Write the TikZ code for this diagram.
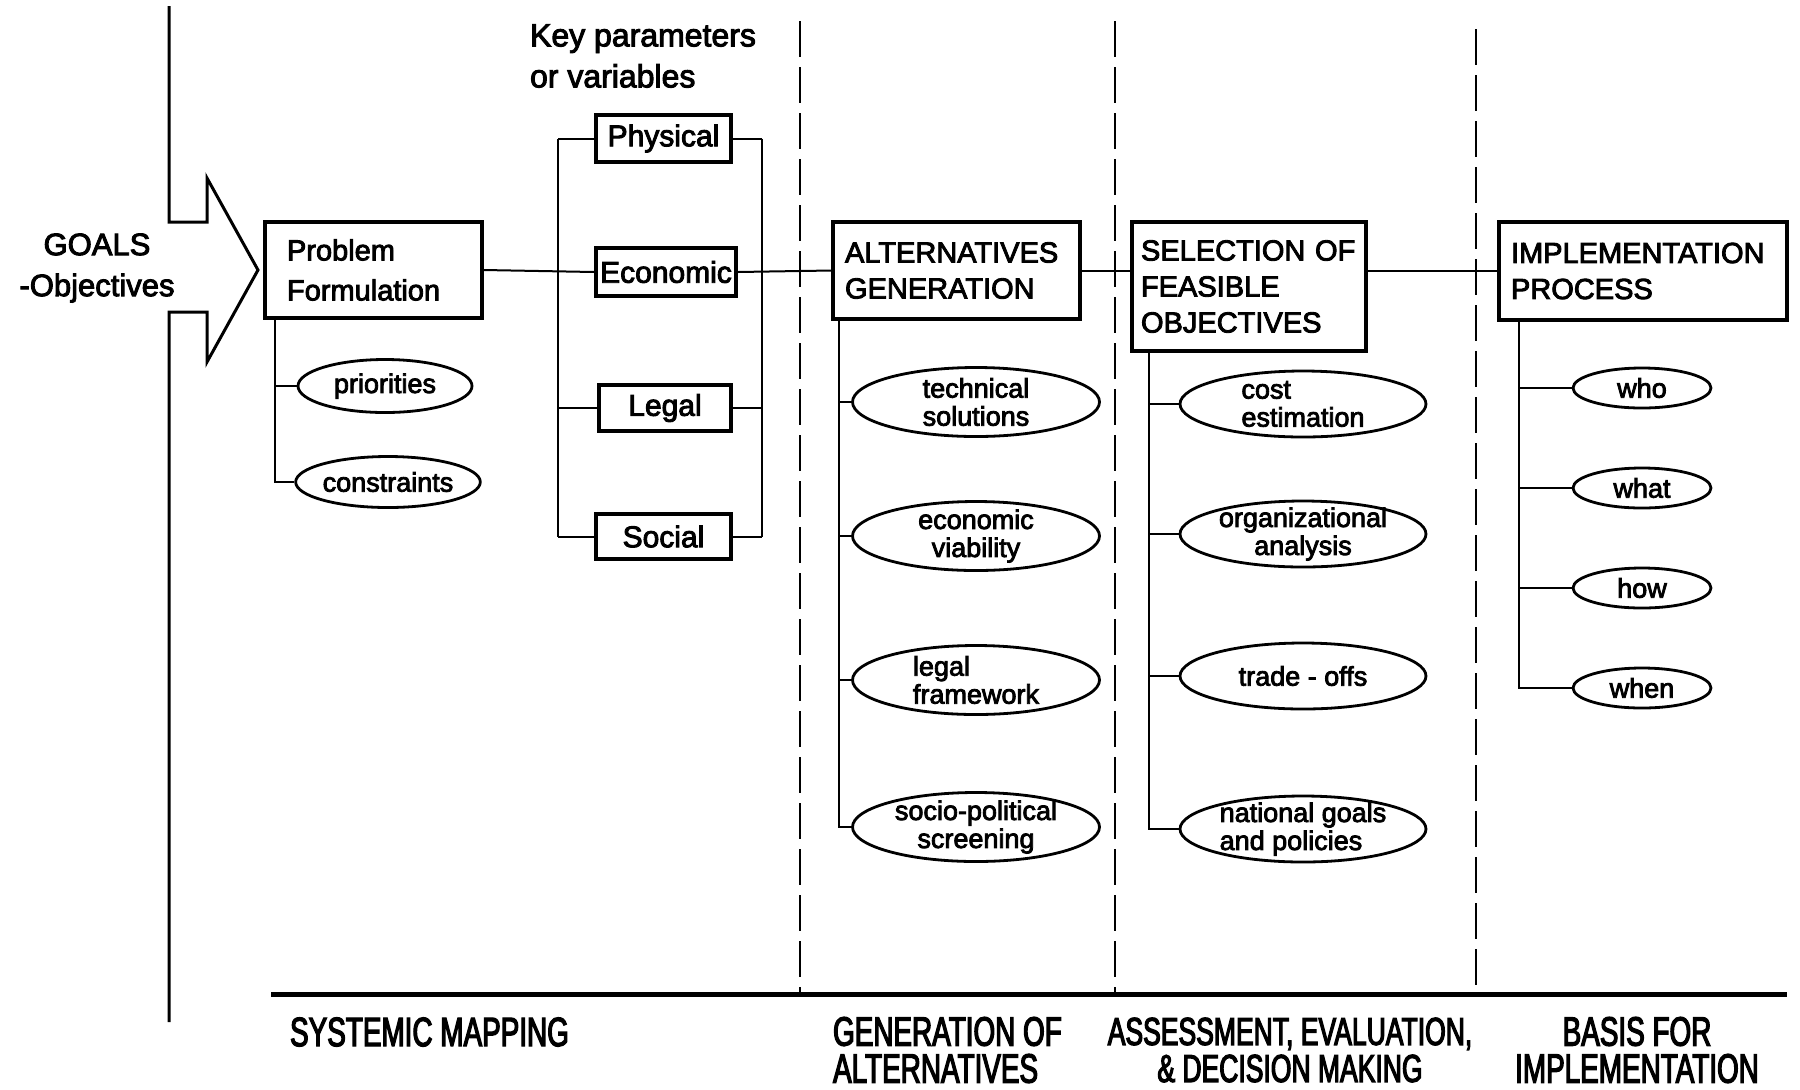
\documentclass[tikz,border=0pt]{standalone}
\usepackage{fontspec}
\setmainfont{Liberation Sans}[FakeBold=3]
\newfontfamily\condfont{Liberation Sans}[FakeStretch=0.68, FakeBold=3]
\usetikzlibrary{shapes.geometric}

\begin{document}
\begin{tikzpicture}[x=0.5pt,y=-0.5pt,
  stage/.style={draw, line width=1.8pt, align=left, inner ysep=0pt,
    font=\fontsize{14.5}{18}\selectfont},
  param/.style={draw, line width=1.6pt, inner sep=0pt,
    font=\fontsize{15}{18}\selectfont},
  oval/.style={draw, ellipse, line width=1.4pt, inner xsep=0pt, inner ysep=-6pt,
    align=center, font=\fontsize{13.5}{14}\selectfont},
  altoval/.style={oval, minimum width=123.5pt, minimum height=34.5pt},
  seloval/.style={oval, minimum width=123pt, minimum height=33pt},
  impoval/.style={oval, minimum width=69pt, minimum height=20pt},
  link/.style={line width=1pt},
  divider/.style={line width=1pt, dash pattern=on 18pt off 5pt},
  phase/.style={font=\condfont\fontsize{20.5}{18.5}\selectfont},
]
\useasboundingbox (0,0) rectangle (1800,1089);

% entry arrow cut into the left border
\draw[line width=1.5pt, line join=miter]
  (169,6) -- (169,222) -- (207,222) -- (207,178) -- (258,270)
  -- (207,362) -- (207,312) -- (169,312) -- (169,1022);
\node[align=center, font=\fontsize{15.5}{20.5}\selectfont] (goals) at (97,268)
  {GOALS\\-Objectives};

% main stages
\node[stage, minimum width=108.5pt, minimum height=48pt, text width=86.5pt,
  inner xsep=11pt, font=\fontsize{14.5}{20}\selectfont] (pf) at (373.5,270)
  {Problem\\Formulation};
\node[stage, minimum height=48.5pt, text width=111.5pt, inner xsep=6pt]
  (alt) at (956.5,270.5) {ALTERNATIVES\\GENERATION};
\node[stage, minimum height=64.5pt, text width=108pt, inner xsep=4.5pt]
  (sel) at (1249,286.5) {SELECTION OF\\FEASIBLE\\OBJECTIVES};
\node[stage, minimum height=49pt, text width=132pt, inner xsep=6pt]
  (impl) at (1643,271) {IMPLEMENTATION\\PROCESS};

% key parameters
\node[anchor=west, align=left, font=\fontsize{16}{20.5}\selectfont] (keyp)
  at (523,56) {Key parameters\\or variables};
\node[param, minimum width=67.5pt, minimum height=23.5pt] (phys) at (663.5,138.5) {Physical};
\node[param, minimum width=70pt, minimum height=24pt] (eco) at (666,272) {Economic};
\node[param, minimum width=66pt, minimum height=23pt] (legal) at (665,408) {Legal};
\node[param, minimum width=67.5pt, minimum height=22.5pt] (soc) at (663.5,536.5) {Social};

\coordinate (bl) at (558,272);
\coordinate (br) at (762,272);
\draw[link] (phys.west -| bl) -- (soc.west -| bl);
\draw[link] (phys.east -| br) -- (soc.east -| br);
\foreach \n in {phys,legal,soc} {
  \draw[link] (\n.west) -- (\n.west -| bl);
  \draw[link] (\n.east) -- (\n.east -| br);
}

% main chain
\draw[link] (pf.east) -- (eco.west);
\draw[link] (eco.east) -- (alt.west);
\draw[link] (alt.east) -- (alt.east -| sel.west);
\draw[link] (sel.east |- impl.west) -- (impl.west);

% problem formulation details
\node[oval, minimum width=87pt, minimum height=26.5pt] (pri) at (385,386) {priorities};
\node[oval, minimum width=88pt, minimum height=25.5pt] (con) at (388,482) {constraints};
\draw[link] ([xshift=6pt]pf.south west) |- (pri.west);
\draw[link] ([xshift=6pt]pf.south west) |- (con.west);

% alternatives generation details
\node[altoval] (tech) at (976,402) {technical\\solutions};
\node[altoval] (econv) at (976,536) {economic\\viability};
\node[altoval, align=left] (legf) at (976,680) {legal\\framework};
\node[altoval] (socp) at (976,827) {socio-political\\screening};
\foreach \n in {tech,econv,legf,socp}
  \draw[link] ([xshift=4pt]alt.south west) |- (\n.west);

% selection details
\node[seloval, align=left] (cost) at (1303,404) {cost\\estimation};
\node[seloval] (org) at (1303,534) {organizational\\analysis};
\node[seloval] (trade) at (1303,676) {trade - offs};
\node[seloval, align=left] (natg) at (1303,829) {national goals\\and policies};
\foreach \n in {cost,org,trade,natg}
  \draw[link] ([xshift=9.5pt]sel.south west) |- (\n.west);

% implementation details
\node[impoval] (who) at (1642,388) {who};
\node[impoval] (what) at (1642,488) {what};
\node[impoval] (how) at (1642,588) {how};
\node[impoval] (when) at (1642,688) {when};
\foreach \n in {who,what,how,when}
  \draw[link] ([xshift=11pt]impl.south west) |- (\n.west);

% phase dividers and base line
\draw[divider] (800,21) -- (800,994);
\draw[divider] (1115,21) -- (1115,994);
\draw[divider] (1476,29) -- (1476,994);
\draw[line width=2.5pt] (271,994) -- (1787,994);

% phase names
\node[phase, anchor=west] (m1) at (283,1032) {SYSTEMIC MAPPING};
\node[phase, anchor=west, align=left] (m2) at (826,1050) {GENERATION OF\\ALTERNATIVES};
\node[phase, align=center, font=\condfont\fontsize{19.5}{18.5}\selectfont] (m3) at (1290,1050) {ASSESSMENT, EVALUATION,\\\& DECISION MAKING};
\node[phase, align=center] (m4) at (1637,1050) {BASIS FOR\\IMPLEMENTATION};
\end{tikzpicture}
\end{document}
